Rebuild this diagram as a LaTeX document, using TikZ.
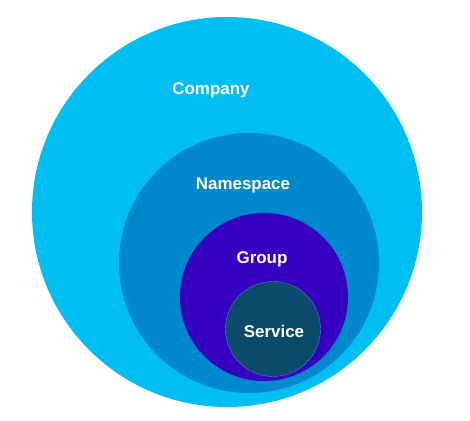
\documentclass[tikz,border=0pt]{standalone}
\usepackage{fontspec}
\setmainfont{Liberation Sans}
\usepackage{tikz}
\usetikzlibrary{positioning}

\definecolor{CompanyBlue}{RGB}{0,190,242}
\definecolor{NamespaceBlue}{RGB}{0,136,206}
\definecolor{GroupViolet}{RGB}{53,0,191}
\definecolor{ServiceTeal}{RGB}{11,74,107}
\definecolor{ServiceRim}{RGB}{58,143,192}

\tikzset{
  ring/.style={circle, inner sep=0pt},
  ringlabel/.style={text=white, font=\fontsize{17}{19}\selectfont\bfseries}
}

\begin{document}
\begin{tikzpicture}
    \useasboundingbox (0,0) rectangle (470bp,421bp);
    \node [ring, fill=CompanyBlue, minimum size=390bp] (com) at (227bp,209bp) {};
    \node at (com) [ring, fill=NamespaceBlue, minimum size=260bp, xshift=22bp, yshift=-51bp] (nam) {};
    \node at (nam) [ring, fill=GroupViolet, minimum size=168bp, xshift=15bp, yshift=-34bp] (gro) {};
    \node at (gro) [ring, draw=ServiceRim, thin, fill=ServiceTeal, minimum size=95bp, xshift=9bp, yshift=-32bp] (ser) {};

    %% Labels
    \node at (com) [ringlabel, xshift=-16bp, yshift=122bp] (comlab) {Company};
    \node at (nam) [ringlabel, xshift=-6bp, yshift=78bp] (namlab) {Namespace};
    \node at (gro) [ringlabel, xshift=-2bp, yshift=38bp] (grolab) {Group};
    \node at (ser) [ringlabel, xshift=1bp, yshift=-2bp] (serlab) {Service};
\end{tikzpicture}
\end{document}
